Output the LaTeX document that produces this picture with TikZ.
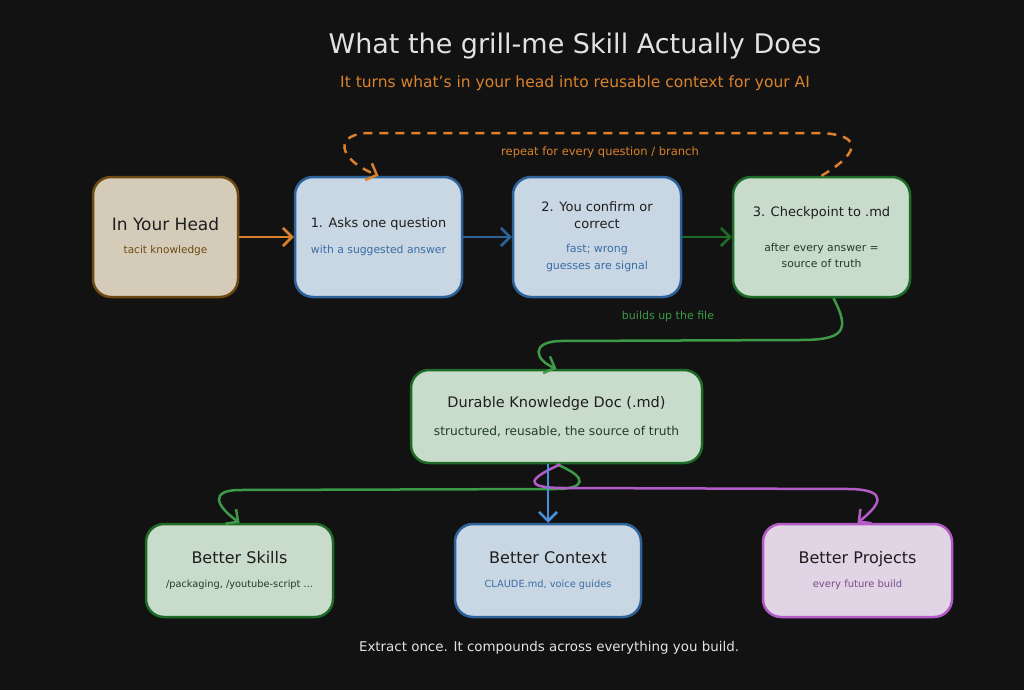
\documentclass[tikz,border=0pt]{standalone}
\usepackage{fontspec}
\setmainfont{DejaVu Sans}
\usetikzlibrary{positioning, arrows.meta}
\definecolor{bgdark}{HTML}{121212}
\definecolor{titlegray}{HTML}{E2E2E2}
\definecolor{headorange}{HTML}{D9822B}
\definecolor{headfill}{HTML}{D4CCB8}
\definecolor{headline}{HTML}{6E4A12}
\definecolor{stepblue}{HTML}{2D6399}
\definecolor{stepbluefill}{HTML}{C9D6E3}
\definecolor{stepbluetext}{HTML}{3A6EA5}
\definecolor{stepgreen}{HTML}{1D6B27}
\definecolor{stepgreenfill}{HTML}{C9DBCA}
\definecolor{greentext}{HTML}{1F3F22}
\definecolor{greenarrow}{HTML}{3C9A48}
\definecolor{bluearrow}{HTML}{4A90D9}
\definecolor{projpurple}{HTML}{B35CC7}
\definecolor{projfill}{HTML}{E1D4E4}
\definecolor{projtext}{HTML}{7A4A8A}
\definecolor{darktext}{HTML}{1E1E1E}

\begin{document}
\begin{tikzpicture}[x=1pt, y=-1pt,
        box/.style={rounded corners=18pt, line width=2.5pt, align=center, text=darktext, inner sep=0pt},
        flow/.style={line width=2.5pt, -{Straight Barb[length=9pt, width=18pt]}},
        small/.style={font=\fontsize{11.5}{14}\selectfont}]
      \fill[bgdark] (0,0) rectangle (1024,690);
      \useasboundingbox (0,0) rectangle (1024,690);

      % title
      \node[text=titlegray, font=\fontsize{27}{32}\selectfont] (title) at (575,46) {What the grill-me Skill Actually Does};
      \node[text=headorange, font=\fontsize{15.5}{18}\selectfont] (subtitle) at (575,83) {It turns what's in your head into reusable context for your AI};

      % top row
      \node[box, draw=headline, fill=headfill, minimum width=145pt, minimum height=120pt,
            font=\fontsize{17}{20}\selectfont] (head) at (165.5,237)
        {In Your Head\\[3pt]{\fontsize{10.5}{12}\selectfont\color{headline}tacit knowledge}};
      \node[box, draw=stepblue, fill=stepbluefill, minimum width=167pt, minimum height=120pt,
            font=\fontsize{12.9}{16}\selectfont] (s1) at (378.5,237)
        {1. Asks one question\\[10pt]{\fontsize{10.8}{12}\selectfont\color{stepbluetext}with a suggested answer}};
      \node[box, draw=stepblue, fill=stepbluefill, minimum width=168pt, minimum height=120pt,
            font=\fontsize{13}{17}\selectfont] (s2) at (597,237)
        {2. You confirm or\\correct\\[7pt]{\fontsize{11}{13}\selectfont\color{stepbluetext}fast; wrong}\\
         {\fontsize{11}{13}\selectfont\color{stepbluetext}guesses are signal}};
      \node[box, draw=stepgreen, fill=stepgreenfill, minimum width=177pt, minimum height=120pt,
            font=\fontsize{13}{16}\selectfont] (s3) at (821.5,237)
        {3. Checkpoint to .md\\[19pt]{\fontsize{10.8}{13}\selectfont\color{greentext}after every answer =}\\
         {\fontsize{10.8}{13}\selectfont\color{greentext}source of truth}};

      \draw[flow, headorange] (head) -- (s1);
      \draw[flow, stepblue] (s1) -- (s2);
      \draw[flow, stepgreen] (s2) -- (s3);

      % repeat loop
      \draw[headorange, line width=2.5pt, dash pattern=on 9pt off 7pt, -{Straight Barb[length=9pt, width=18pt]}]
        (s3.north) .. controls (865,150) and (860,133) .. (815,133) -- (370,133)
        .. controls (335,133) and (335,158) .. (s1.north);
      \node[text=headorange, small] (repeat) at (600,152) {repeat for every question / branch};

      % into the doc
      \node[box, draw=stepgreen, fill=stepgreenfill, minimum width=291pt, minimum height=93pt,
            font=\fontsize{14.5}{17}\selectfont] (doc) at (556.5,416.5)
        {Durable Knowledge Doc (.md)\\[11pt]{\fontsize{12.2}{14}\selectfont\color{greentext}structured, reusable, the source of truth}};
      \draw[flow, greenarrow] ([xshift=12pt]s3.south) .. controls (850,330) and (845,340) .. (800,340) -- (560,341)
        .. controls (530,342) and (535,360) .. (doc.north);
      \node[text=greenarrow, font=\fontsize{11}{13}\selectfont] (builds) at (668,316) {builds up the file};

      % bottom row
      \node[box, draw=stepgreen, fill=stepgreenfill, minimum width=187pt, minimum height=93pt,
            font=\fontsize{16}{19}\selectfont] (skills) at (239.5,570.5)
        {Better Skills\\[5pt]{\fontsize{9.8}{11}\selectfont\color{greentext}/packaging, /youtube-script ...}};
      \node[box, draw=stepblue, fill=stepbluefill, minimum width=186pt, minimum height=93pt,
            font=\fontsize{16}{19}\selectfont] (context) at (548,570.5)
        {Better Context\\[5pt]{\fontsize{9.8}{11}\selectfont\color{stepbluetext}CLAUDE.md, voice guides}};
      \node[box, draw=projpurple, fill=projfill, minimum width=189pt, minimum height=93pt,
            font=\fontsize{16}{19}\selectfont] (projects) at (857.5,570.5)
        {Better Projects\\[5pt]{\fontsize{10}{11}\selectfont\color{projtext}every future build}};

      \draw[flow, greenarrow] (doc.south) .. controls (590,478) and (585,489) .. (555,489) -- (240,490)
        .. controls (210,490) and (215,505) .. (skills.north);
      \draw[flow, projpurple] ([xshift=4pt]doc.south) .. controls (530,478) and (520,488) .. (565,488) -- (850,489)
        .. controls (890,490) and (880,505) .. (projects.north);
      \draw[flow, bluearrow] (context.north |- doc.south) -- (context.north);

      % footer
      \node[text=titlegray, font=\fontsize{13.4}{16}\selectfont] (footer) at (549,648) {Extract once. It compounds across everything you build.};
    \end{tikzpicture}
\end{document}
